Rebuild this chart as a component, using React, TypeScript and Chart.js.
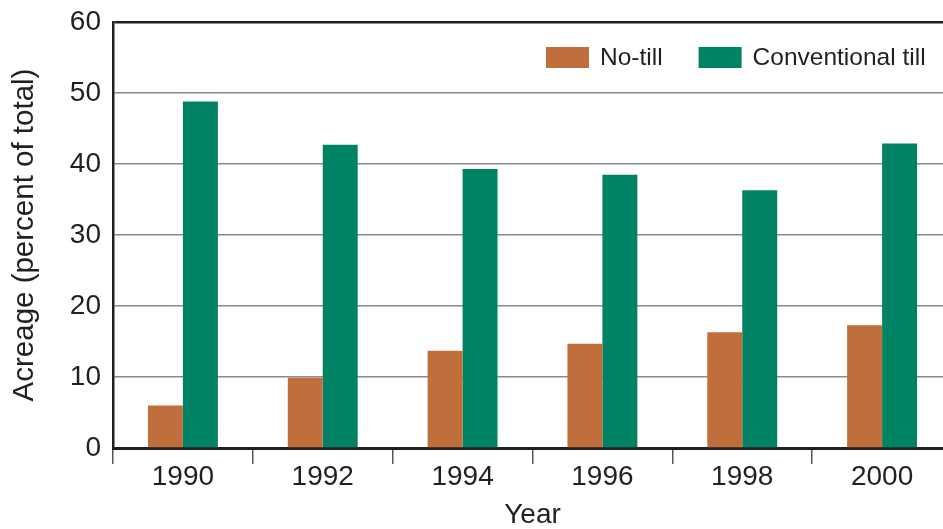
import React, { useEffect, useRef } from 'react';
import { Chart, registerables } from 'chart.js';

Chart.register(...registerables);

const years = ['1990', '1992', '1994', '1996', '1998', '2000'];
const noTill = [6.0, 9.9, 13.7, 14.7, 16.3, 17.3];
const conventionalTill = [48.8, 42.7, 39.3, 38.5, 36.3, 42.9];
const seriesLabels = ['No-till', 'Conventional till'];
const seriesColors = ['#C06E3B', '#008264'];
const yMin = 0;
const yMax = 60;
const yStep = 10;

const TEXT = '#231f20';
const FONT = "'Liberation Sans', Arial, Helvetica, sans-serif";

const insideLegend = {
  id: 'insideLegend',
  afterDraw(chart: any) {
    const { ctx, chartArea } = chart;
    ctx.save();
    ctx.font = `24.5px ${FONT}`;
    ctx.textBaseline = 'alphabetic';
    ctx.textAlign = 'left';
    const boxW = 43;
    const boxH = 21;
    const top = chartArea.top + 25;
    let x = 546;
    chart.data.datasets.forEach((ds: any) => {
      ctx.fillStyle = ds.backgroundColor;
      ctx.fillRect(x, top, boxW, boxH);
      ctx.fillStyle = TEXT;
      const tx = x + boxW + 11;
      ctx.fillText(ds.label, tx, top + 17.5);
      const w = ctx.measureText(ds.label).width;
      x = tx + w + 36;
    });
    ctx.restore();
  },
};

export default function App() {
  const ref = useRef<HTMLCanvasElement>(null);
  useEffect(() => {
    document.body.style.margin = '0';
    const chart = new Chart(ref.current as HTMLCanvasElement, {
      type: 'bar',
      data: {
        labels: years,
        datasets: [
          { label: seriesLabels[0], data: noTill, backgroundColor: seriesColors[0], borderWidth: 0 },
          { label: seriesLabels[1], data: conventionalTill, backgroundColor: seriesColors[1], borderWidth: 0 },
        ],
      },
      options: {
        responsive: false,
        animation: false,
        devicePixelRatio: 1,
        layout: { padding: { top: 22, left: 0, right: 0, bottom: 0 } },
        datasets: { bar: { barPercentage: 1, categoryPercentage: 0.5 } },
        plugins: { legend: { display: false }, tooltip: { enabled: false } },
        scales: {
          x: {
            type: 'category',
            offset: true,
            grid: {
              display: true,
              offset: true,
              drawOnChartArea: false,
              drawTicks: true,
              tickLength: 16,
              color: '#555',
              lineWidth: 1.5,
            },
            border: { display: true, color: TEXT, width: 3 },
            ticks: { font: { family: FONT, size: 28 }, color: TEXT, padding: -4, maxRotation: 0 },
            title: {
              display: true,
              text: 'Year',
              font: { family: FONT, size: 28, lineHeight: 1 },
              color: TEXT,
              padding: { top: 0, bottom: 0 },
            },
            afterFit(s: any) {
              s.height = 81;
            },
          },
          y: {
            min: yMin,
            max: yMax,
            ticks: { stepSize: yStep, font: { family: FONT, size: 28 }, color: TEXT, padding: 0 },
            grid: {
              drawTicks: true,
              tickLength: 12,
              tickColor: 'rgba(0,0,0,0)',
              color: (c: any) => (c.tick && c.tick.value === yMax ? TEXT : '#8a8a8a'),
              lineWidth: (c: any) => (c.tick && c.tick.value === yMax ? 2.5 : 1.5),
            },
            border: { display: true, color: TEXT, width: 2.5 },
            title: {
              display: true,
              text: 'Acreage (percent of total)',
              font: { family: FONT, size: 29.5, lineHeight: 1 },
              color: TEXT,
              padding: { top: 10, bottom: 0 },
            },
            afterFit(s: any) {
              s.width = 113;
            },
          },
        },
      },
      plugins: [insideLegend],
    } as any);
    return () => chart.destroy();
  }, []);
  return (
    <div style={{ position: 'fixed', left: 0, top: 0, width: 943, height: 529, overflow: 'hidden', background: '#fff' }}>
      <canvas ref={ref} width={952} height={529} style={{ display: 'block', width: 952, height: 529 }} />
    </div>
  );
}
